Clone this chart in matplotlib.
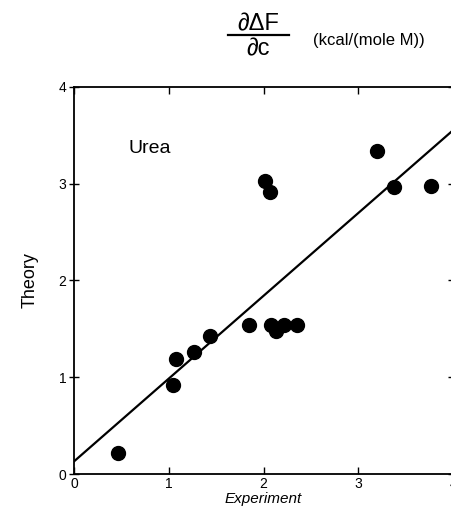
import numpy as np
import matplotlib
matplotlib.use("Agg")
import matplotlib.pyplot as plt
from matplotlib.lines import Line2D

plt.rcParams['font.family'] = ['Liberation Sans', 'DejaVu Sans']

# data
experiment = [0.46, 1.04, 1.08, 1.27, 1.44, 1.85, 2.08, 2.13, 2.22, 2.35,
              2.02, 2.07, 3.20, 3.38, 3.77]
theory = [0.22, 0.92, 1.19, 1.26, 1.43, 1.54, 1.54, 1.48, 1.54, 1.54,
          3.03, 2.91, 3.34, 2.96, 2.97]
fit_x = [0.0, 4.0]
fit_y = [0.13, 3.55]
ticks = [0, 1, 2, 3, 4]

W, H = 451, 515
fig = plt.figure(figsize=(W / 100, H / 100), dpi=100)
ax = fig.add_axes([74 / W, 41 / H, 379 / W, 387.3 / H])

ax.plot(fit_x, fit_y, color='black', lw=1.6)
ax.scatter(experiment, theory, s=100, color='black', zorder=3)

ax.set_xlim(0, 4)
ax.set_ylim(0, 4)
ax.set_xticks(ticks)
ax.set_yticks(ticks)
ax.tick_params(axis='both', direction='in', length=5, labelsize=10,
               top=True, right=True, width=1)
ax.tick_params(axis='y', direction='inout', length=7, pad=2)
ax.tick_params(axis='x', pad=2)
for s in ax.spines.values():
    s.set_linewidth(1.3)

ax.text(0.57, 3.36, 'Urea', fontsize=14, va='center')
ax.set_xlabel('Experiment', fontsize=11, style='italic', labelpad=1)
ax.set_ylabel('Theory', fontsize=13, labelpad=14)

# d(dF)/dc fraction above the plot
fig.text(258 / W, 1 - 24 / H, '\u2202\u0394F', fontsize=17,
         ha='center', va='center')
fig.add_artist(Line2D([228 / W, 289 / W], [1 - 35 / H, 1 - 35 / H],
                      color='black', lw=1.6, transform=fig.transFigure))
fig.text(258 / W, 1 - 49 / H, '\u2202c', fontsize=17,
         ha='center', va='center')
fig.text(313 / W, 1 - 41 / H, '(kcal/(mole M))', fontsize=12,
         ha='left', va='center')

fig.savefig('out.png', dpi=100)
